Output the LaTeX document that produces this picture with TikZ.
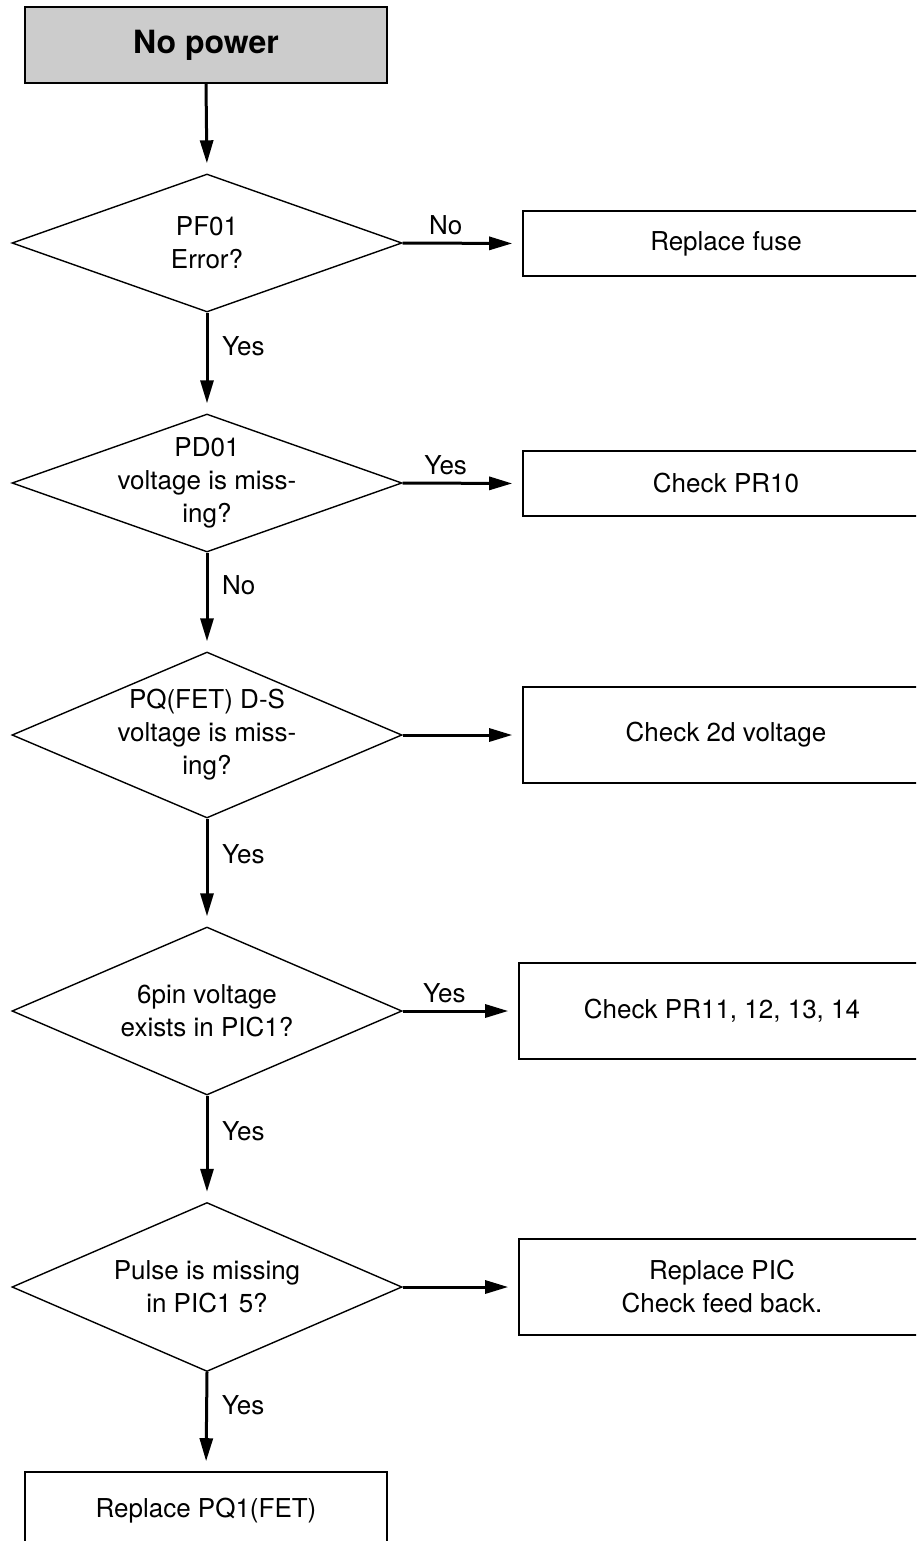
\documentclass[tikz,border=0pt]{standalone}
\usepackage{fontspec}
\setmainfont{TeX Gyre Heros}
\usetikzlibrary{shapes.geometric,arrows.meta}
\definecolor{startgrey}{RGB}{204,204,204}
\begin{document}
\begin{tikzpicture}[x=.5pt,y=-.5pt,
  txt/.style={font=\fontsize{13}{16.5}\selectfont,align=center},
  dec/.style={txt,diamond,draw,line width=.7pt,minimum width=195pt,shape aspect=2.35,inner sep=-10pt},
  act/.style={txt,rectangle,draw,line width=.8pt,minimum width=203pt},
  go/.style={line width=1.5pt,-{Triangle[length=11.5pt,width=6.5pt]},shorten >=5pt},
  down/.style={right,xshift=3.5pt,pos=.33,txt},
  side/.style={above,pos=.36,txt}]
\useasboundingbox(0,0)rectangle(916,1541);\clip(0,0)rectangle(916,1541);
\node[act,fill=startgrey,line width=1pt,minimum width=181pt,minimum height=38pt,font=\fontsize{16}{19}\selectfont\bfseries] (start) at(206,45){No power};
\node[dec,minimum height=69pt] (d1) at(207,243){PF01\\Error?};
\node[dec,minimum height=69pt] (d2) at(207,483){PD01\\voltage is miss-\\ing?};
\node[dec,minimum height=83pt] (d3) at(207,735){PQ(FET) D-S\\voltage is miss-\\ing?};
\node[dec,minimum height=84pt] (d4) at(207,1011){6pin voltage\\exists in PIC1?};
\node[dec,minimum height=84.5pt] (d5) at(207,1287){Pulse is missing\\in PIC1 5?};
\node[act,minimum height=39pt,minimum width=181pt] (fet) at(206,1511){Replace PQ1(FET)};
\node[act,minimum height=32.5pt] (r1) at(726,243.5){Replace fuse};
\node[act,minimum height=32.5pt] (r2) at(726,483.5){Check PR10};
\node[act,minimum height=48pt] (r3) at(726,735){Check 2d voltage};
\node[act,minimum height=48pt] (r4) at(722,1011){Check PR11, 12, 13, 14};
\node[act,minimum height=48pt] (r5) at(722,1287){Replace PIC\\Check feed back.};
\draw[go](start.south)--(d1.north);\draw[go](d1.south)--node[down]{Yes}(d2.north);\draw[go](d2.south)--node[down]{No}(d3.north);
\draw[go](d3.south)--node[down]{Yes}(d4.north);\draw[go](d4.south)--node[down]{Yes}(d5.north);\draw[go](d5.south)--node[down]{Yes}(fet.north);
\draw[go](d1.east)--node[side]{No}(r1.west);\draw[go](d2.east)--node[side]{Yes}(r2.west);\draw[go](d3.east)--(r3.west);
\draw[go](d4.east)--node[side]{Yes}(r4.west);\draw[go](d5.east)--(r5.west);
\end{tikzpicture}
\end{document}
